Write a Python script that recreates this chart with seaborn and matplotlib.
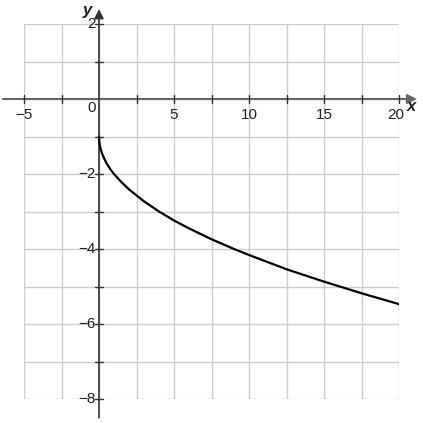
import numpy as np
import pandas as pd
import matplotlib
matplotlib.use("Agg")
import matplotlib.pyplot as plt
import seaborn as sns

# curve points
x_vals = [0, 0.02, 0.05, 0.1, 0.2, 0.35, 0.5, 0.75, 1, 1.5, 2, 3, 4, 5, 6,
          7.5, 9, 10, 12.5, 15, 17.5, 20]
y_vals = [-1.0, -1.14, -1.22, -1.32, -1.45, -1.59, -1.71, -1.87, -2.0, -2.22,
          -2.41, -2.73, -3.0, -3.24, -3.45, -3.74, -4.0, -4.16, -4.54, -4.87,
          -5.18, -5.47]

x_grid = [-5, -2.5, 0, 2.5, 5, 7.5, 10, 12.5, 15, 17.5, 20]
y_grid = [-8, -7, -6, -5, -4, -3, -2, -1, 0, 1, 2]
x_labels = [-5, 5, 10, 15, 20]
y_labels = [2, -2, -4, -6, -8]

sns.set_theme(style="white")
plt.rcParams['font.family'] = ['Liberation Sans', 'DejaVu Sans']


def fmt(v):
    return "\u2212" + str(-v) if v < 0 else str(v)


fig = plt.figure(figsize=(4.23, 4.23), dpi=100)
ax = fig.add_axes([24 / 423, 24 / 423, 375 / 423, 375 / 423])
ax.set_xlim(-5, 20)
ax.set_ylim(-8, 2)

for gx in x_grid:
    ax.axvline(gx, color="#cccccc", lw=1, zorder=0)
for gy in y_grid:
    ax.axhline(gy, color="#cccccc", lw=1, zorder=0)

for s in ax.spines.values():
    s.set_visible(False)
ax.set_xticks([])
ax.set_yticks([])

axis_col = "#666666"
# axes with arrows
ax.annotate("", xy=(21.2, 0), xytext=(-6.4, 0),
            arrowprops=dict(arrowstyle="-|>", color=axis_col, lw=1.5, mutation_scale=14,
                            shrinkA=0, shrinkB=0),
            annotation_clip=False, zorder=3)
ax.annotate("", xy=(0, 2.4), xytext=(0, -8.5),
            arrowprops=dict(arrowstyle="-|>", color="#333333", lw=1.2, mutation_scale=14,
                            shrinkA=0, shrinkB=0),
            annotation_clip=False, zorder=3)

# small tick marks on the axes
tx = 4 / 37.5
for gx in x_grid:
    if gx != 0:
        ax.plot([gx, gx], [-tx, tx], color="#333333", lw=1, clip_on=False, zorder=4)
ty = 4 / 15
for gy in y_grid:
    if gy != 0:
        ax.plot([-ty, ty], [gy, gy], color="#333333", lw=1, clip_on=False, zorder=4)

fs = 11
for v in x_labels:
    ax.text(v - (0.2 if v == 20 else 0), -0.43, fmt(v), ha="center", va="center",
            fontsize=fs, color="#222222")
for v in y_labels:
    ax.text(-0.2, v, fmt(v), ha="right", va="center", fontsize=fs, color="#222222")
ax.text(-0.5, -0.25, "0", ha="center", va="center", fontsize=fs, color="#222222")
ax.text(20.8, -0.2, "x", ha="center", va="center", fontsize=12, style="italic",
        fontweight="bold", color="#222222")
ax.text(-0.75, 2.35, "y", ha="center", va="center", fontsize=12, style="italic",
        fontweight="bold", color="#222222", clip_on=False)

df = pd.DataFrame({"x": x_vals, "y": y_vals})
sns.lineplot(data=df, x="x", y="y", ax=ax, color="black", lw=1.6, sort=False, zorder=5)
ax.set_xlabel("")
ax.set_ylabel("")

fig.savefig("out.png", dpi=100, facecolor="white")
